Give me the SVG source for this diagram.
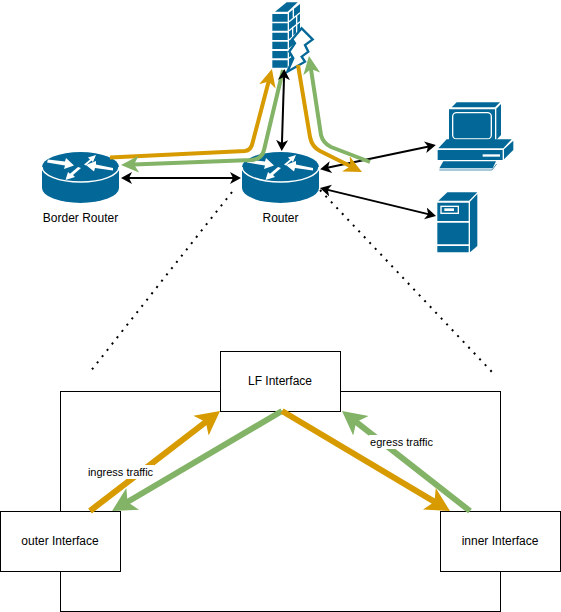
<svg xmlns="http://www.w3.org/2000/svg" xmlns:xlink="http://www.w3.org/1999/xlink" width="561" height="612" viewBox="0 0 561 612">
<style>
text{font-family:"Liberation Sans",Arial,sans-serif;fill:#000;text-anchor:middle}
.n{font-size:12px}.l{font-size:11px}
.box{fill:#fff;stroke:#000;stroke-width:1}
.b{fill:#036897}.w{fill:#fff}
.wl{fill:none;stroke:#fff}
.e{fill:none;stroke-linejoin:round}
.o{stroke:#d79b00}.g{stroke:#82b366}
.k{stroke:#000;stroke-width:2}
.o,.g{stroke-width:4}
.big{stroke-width:6}
</style>
<defs>
<marker id="ow" markerUnits="userSpaceOnUse" markerWidth="30" markerHeight="30" viewBox="0 -15 30 30" refX="16" refY="0" orient="auto"><path d="M0,-12.5L24,0L0,12.5L6,0Z" fill="#d79b00"/></marker>
<marker id="gw" markerUnits="userSpaceOnUse" markerWidth="30" markerHeight="30" viewBox="0 -15 30 30" refX="16" refY="0" orient="auto"><path d="M0,-12.5L24,0L0,12.5L6,0Z" fill="#82b366"/></marker>
<marker id="os" markerUnits="userSpaceOnUse" markerWidth="24" markerHeight="24" viewBox="0 -12 24 24" refX="12" refY="0" orient="auto"><path d="M0,-8.5L18,0L0,8.5L5,0Z" fill="#d79b00"/></marker>
<marker id="gs" markerUnits="userSpaceOnUse" markerWidth="24" markerHeight="24" viewBox="0 -12 24 24" refX="12" refY="0" orient="auto"><path d="M0,-8.5L18,0L0,8.5L5,0Z" fill="#82b366"/></marker>
<marker id="ka" markerUnits="userSpaceOnUse" markerWidth="14" markerHeight="14" viewBox="0 -7 14 14" refX="5" refY="0" orient="auto-start-reverse"><path d="M0,-6L11,0L0,6L3,0Z" fill="#000"/></marker>
<g id="router">
<path class="b" d="M0,15A38.5,15 0 0 1 77,15V36A38.5,15 0 0 1 0,36Z"/>
<path class="wl" stroke-width="1.5" d="M0,15A38.5,15 0 0 0 77,15"/>
<path class="w" d="M6,7.500L23,9.500L24,6L32,13.500L22,17L23,13.500L5,10.500Z"/>
<path class="w" d="M71,18.500L53,16L52,19.500L44,13L54,9L54,12.500L71,16Z"/>
<path class="w" d="M42,12.500L48,7.500L46,5.500L54,3L51,10L49.500,8.500L44,13.500Z"/>
<path class="w" d="M39,16L31,23L33,25L23.500,28L26,20L28,21.800L36,15Z"/>
</g>
</defs>

<g id="outer-frame"><rect class="box" x="60.500" y="391.500" width="440" height="220"/></g>

<g id="firewall" transform="translate(230 0) scale(.3333)">
<path class="b" d="M135,35L170,7H203L173,35Z"/>
<path class="b" d="M127,42h46v23h-46zM127,70h46v22h-46zM127,98h46v22h-46zM127,125h46v22h-46zM127,153h46v22h-46zM127,181h46v22h-46z"/>
<path class="b" d="M177,38L210,12V150L177,205Z"/>
<path class="wl" stroke-width="4" d="M177,65L210,38M177,92L210,65M177,120L210,92M177,147L210,120M177,175L210,147M190,25V55M200,45V75M188,80V110M200,75V100M188,135V165"/>
<path d="M215,85L248,118L225,135L235,155L215,170L225,185L172,215L190,175L178,155L195,130L187,118Z" fill="#fff" stroke="#036897" stroke-width="7" stroke-linejoin="miter"/>
</g>

<g id="border-router">
<use xlink:href="#router" href="#router" x="42" y="152"/>
<text class="n" x="80.500" y="222">Border Router</text>
</g>
<g id="core-router">
<use xlink:href="#router" href="#router" x="242" y="152"/>
<text class="n" x="280.500" y="222">Router</text>
</g>

<g id="workstation" transform="translate(420 90) scale(.3333)">
<path class="b" d="M95,52L110,37H240L225,52Z"/>
<path class="b" d="M87,58H225V155H87Z"/>
<rect x="98" y="68" width="116" height="79" rx="12" fill="none" stroke="#fff" stroke-width="4"/>
<path class="b" d="M229,56L243,42V135L229,150Z"/>
<path class="b" d="M55,175L80,148H275L250,175Z"/>
<path class="b" d="M53,180H248V210H53Z"/>
<path class="b" d="M252,178L280,152V180L252,208Z"/>
<rect class="w" x="188" y="193" width="52" height="7"/>
<path class="b" d="M70,214H228L218,235H58Z"/>
<path fill="none" stroke="#036897" stroke-width="3" opacity=".7" d="M58,240H216L230,222"/>
</g>

<g id="server" transform="translate(420 180) scale(.3333)">
<path class="b" d="M55,62L82,37H172L147,62Z"/>
<path class="b" d="M52,68H146V123H52ZM52,128H146V193H52ZM52,198H146V217H52Z"/>
<path class="b" d="M150,65L172,42V198L150,217Z"/>
<rect x="63" y="79" width="52" height="21" fill="none" stroke="#fff" stroke-width="4"/>
<rect class="w" x="73" y="85" width="29" height="8"/>
</g>

<g id="lf-interface"><rect class="box" x="220.500" y="351.500" width="120" height="60"/><text class="n" x="280" y="385">LF Interface</text></g>
<g id="outer-interface"><rect class="box" x="0.500" y="511.500" width="120" height="60"/><text class="n" x="60" y="545">outer Interface</text></g>
<g id="inner-interface"><rect class="box" x="440.500" y="511.500" width="120" height="60"/><text class="n" x="500" y="545">inner Interface</text></g>

<g id="connectors">
<path class="e k" marker-start="url(#ka)" marker-end="url(#ka)" d="M326,168.100L430,146.200"/>
<path class="e o" marker-end="url(#os)" d="M110,157.500L245,151Q251,150.500 252.500,143L270.400,74.800"/>
<path class="e g" marker-end="url(#gs)" d="M283,70L264,150Q262,159 252,160L127,164.700"/>
<path class="e o" marker-end="url(#os)" d="M298,65L310,137Q312,147 320,151L356.600,169.300"/>
<path class="e g" marker-end="url(#gs)" d="M370,162L331,147Q323,143 321,135L309.900,62"/>
<path class="e k" marker-start="url(#ka)" marker-end="url(#ka)" d="M284.100,75L281.900,145"/>
<path class="e k" marker-start="url(#ka)" marker-end="url(#ka)" d="M127,178H235"/>
<path class="e k" marker-start="url(#ka)" marker-end="url(#ka)" d="M325.800,189.400L430.200,214.600"/>
<path class="e" stroke="#000" stroke-width="2" stroke-dasharray="2 6" d="M232,192L90,372"/>
<path class="e" stroke="#000" stroke-width="2" stroke-dasharray="2 6" d="M320,190L492,372"/>
<path class="e o big" marker-end="url(#ow)" d="M90,511L213.700,415.900"/>
<path class="e g big" marker-end="url(#gw)" d="M282,411L118.900,507"/>
<path class="e o big" marker-end="url(#ow)" d="M282,411L443.100,506.900"/>
<path class="e g big" marker-end="url(#gw)" d="M470,511L348.300,415.900"/>
<g id="label-ingress"><rect class="w" x="87" y="465" width="67" height="14"/><text class="l" x="120.500" y="476">ingress traffic</text></g>
<g id="label-egress"><rect class="w" x="369" y="435" width="66" height="14"/><text class="l" x="401.500" y="446">egress traffic</text></g>
</g>
</svg>
